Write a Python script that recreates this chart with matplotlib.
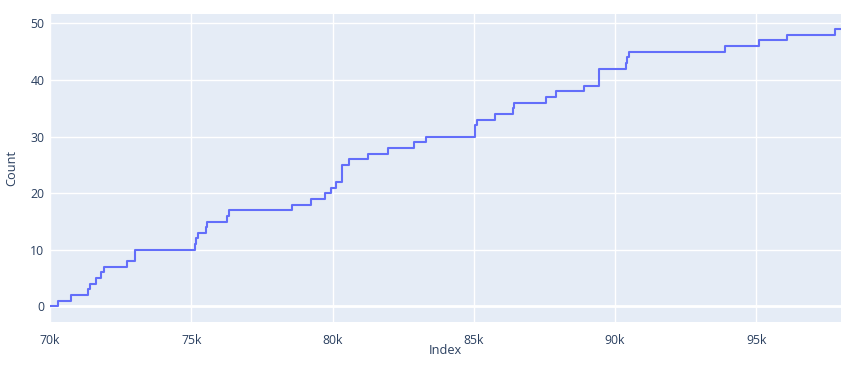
import numpy as np
import matplotlib.pyplot as plt
from matplotlib.ticker import FuncFormatter

# step positions (Index) and cumulative Count
index = [70000, 70280, 70760, 71350, 71400, 71640, 71790, 71910, 72730, 73000,
         75120, 75170, 75250, 75510, 75550, 76260, 76340, 78580, 79250, 79720,
         79960, 80130, 80350, 80600, 81240, 81980, 82900, 83300, 85050, 85120,
         85740, 86390, 86420, 87540, 87900, 88920, 89450, 90400, 90420, 90480,
         93890, 95080, 96100, 97770, 98000]
count = [0, 1, 2, 3, 4, 5, 6, 7, 8, 10,
         11, 12, 13, 14, 15, 16, 17, 18, 19, 20,
         21, 22, 25, 26, 27, 28, 29, 30, 32, 33,
         34, 35, 36, 37, 38, 39, 42, 43, 44, 45,
         46, 47, 48, 49, 49]
xticks = [70000, 75000, 80000, 85000, 90000, 95000]
yticks = [0, 10, 20, 30, 40, 50]

plt.rcParams['font.family'] = ['Open Sans', 'DejaVu Sans']
txt = '#2a3f5f'

fig = plt.figure(figsize=(8.51, 3.69), dpi=100)
W, H = 851, 369
ax = fig.add_axes([50/W, (H-322)/H, 791/W, 308/H])
ax.set_facecolor('#E5ECF6')

ax.plot(index, count, drawstyle='steps-post', color='#636EFA', lw=1.5, zorder=3)

ax.set_xlim(70000, 98000)
ax.set_ylim(-2.75, 51.65)
ax.set_xticks(xticks)
ax.set_yticks(yticks)
ax.xaxis.set_major_formatter(FuncFormatter(lambda v, p: '%dk' % (v/1000)))
ax.grid(True, color='white', lw=1, zorder=1)
ax.axhline(0, color='white', lw=2, zorder=2)
for s in ax.spines.values():
    s.set_visible(False)
ax.tick_params(length=0, labelsize=8.8, colors=txt)
ax.tick_params(axis='x', pad=9)
ax.tick_params(axis='y', pad=4)

fig.text(445.5/W, 1 - 351/H, 'Index', ha='center', va='center', fontsize=9.2, color=txt)
fig.text(12/W, 1 - 168/H, 'Count', ha='center', va='center', fontsize=9.2, color=txt, rotation=90)

fig.savefig('out.png', dpi=100)
